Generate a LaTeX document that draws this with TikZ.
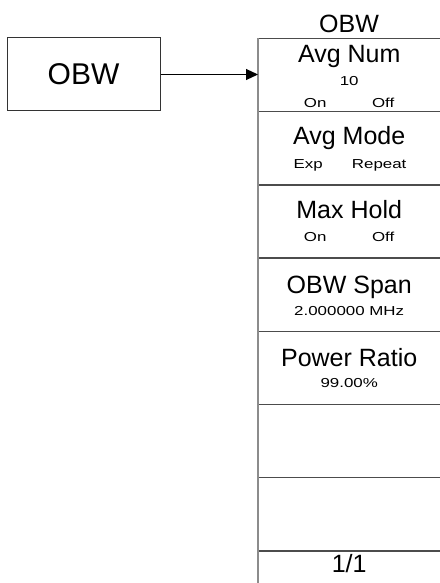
\documentclass[tikz,border=0pt]{standalone}
\usepackage{fontspec}
\setmainfont{Liberation Sans}
\newfontfamily\keyfont[FakeStretch=1.3]{Liberation Sans}
\usetikzlibrary{arrows.meta}

\begin{document}
\begin{tikzpicture}[x=1pt, y=-1pt,
        bigtext/.style={font=\fontsize{25}{30}\selectfont, anchor=base, inner sep=0pt},
        smalltext/.style={font=\keyfont\fontsize{13}{15}\selectfont, anchor=base, inner sep=0pt},
        menukey/.style={anchor=north west, minimum width=182pt, minimum height=73.2pt, inner sep=0pt},
        divider/.style={line width=1.4pt, draw=black!70},
        menuedge/.style={line width=2pt, draw=black!45}]
        \useasboundingbox (0,0) rectangle (439,583);

        % OBW key
        \node[draw=black!80, line width=1pt, minimum width=153pt, minimum height=73pt, font=\fontsize{30}{36}\selectfont] (obw) at (83.5,74.5) {OBW};

        % OBW menu
        \node[bigtext] (menutitle) at (349,33) {OBW};
        \node[menukey] (avgnum) at (258,38.5) {};
        \node[menukey] (avgmode) at (258,111.7) {};
        \node[menukey] (maxhold) at (258,184.9) {};
        \node[menukey] (obwspan) at (258,258.1) {};
        \node[menukey] (powerratio) at (258,331.3) {};
        \node[menukey] (blankA) at (258,404.5) {};
        \node[menukey] (blankB) at (258,477.7) {};
        \node[menukey, minimum height=32.5pt] (page) at (258,550.9) {};

        % Key labels
        \node[bigtext] (avgnumlbl) at ([yshift=-24pt]avgnum.north) {Avg Num};
        \node[smalltext] (avgnumval) at ([yshift=-47pt]avgnum.north) {10};
        \node[smalltext] (avgnumon) at ([xshift=-34pt, yshift=-69pt]avgnum.north) {On};
        \node[smalltext] (avgnumoff) at ([xshift=34pt, yshift=-69pt]avgnum.north) {Off};

        \node[bigtext] (avgmodelbl) at ([yshift=-33pt]avgmode.north) {Avg Mode};
        \node[smalltext] (avgmodeexp) at ([xshift=-41pt, yshift=-57pt]avgmode.north) {Exp};
        \node[smalltext] (avgmoderep) at ([xshift=30pt, yshift=-57pt]avgmode.north) {Repeat};

        \node[bigtext] (maxholdlbl) at ([yshift=-34pt]maxhold.north) {Max Hold};
        \node[smalltext] (maxholdon) at ([xshift=-34pt, yshift=-57pt]maxhold.north) {On};
        \node[smalltext] (maxholdoff) at ([xshift=34pt, yshift=-57pt]maxhold.north) {Off};

        \node[bigtext] (obwspanlbl) at ([yshift=-35pt]obwspan.north) {OBW Span};
        \node[smalltext] (obwspanval) at ([yshift=-57pt]obwspan.north) {2.000000 MHz};

        \node[bigtext] (powerratiolbl) at ([yshift=-35pt]powerratio.north) {Power Ratio};
        \node[smalltext] (powerratioval) at ([yshift=-56pt]powerratio.north) {99.00\%};

        \node[bigtext] (pagelbl) at ([yshift=-22pt]page.north) {1/1};

        % Dividers
        \draw[divider] (avgnum.north west) -- (avgnum.north east);
        \draw[divider] (avgmode.north west) -- (avgmode.north east);
        \draw[divider] (maxhold.north west) -- (maxhold.north east);
        \draw[divider] (obwspan.north west) -- (obwspan.north east);
        \draw[divider] (powerratio.north west) -- (powerratio.north east);
        \draw[divider] (blankA.north west) -- (blankA.north east);
        \draw[divider] (blankB.north west) -- (blankB.north east);
        \draw[divider] (page.north west) -- (page.north east);
        \draw[menuedge] (avgnum.north west) -- (page.south west);

        % Arrow
        \draw[-{Triangle[length=12pt, width=11pt]}, line width=1pt] (obw.east) -- (obw.east -| avgnum.west);
    \end{tikzpicture}
\end{document}
